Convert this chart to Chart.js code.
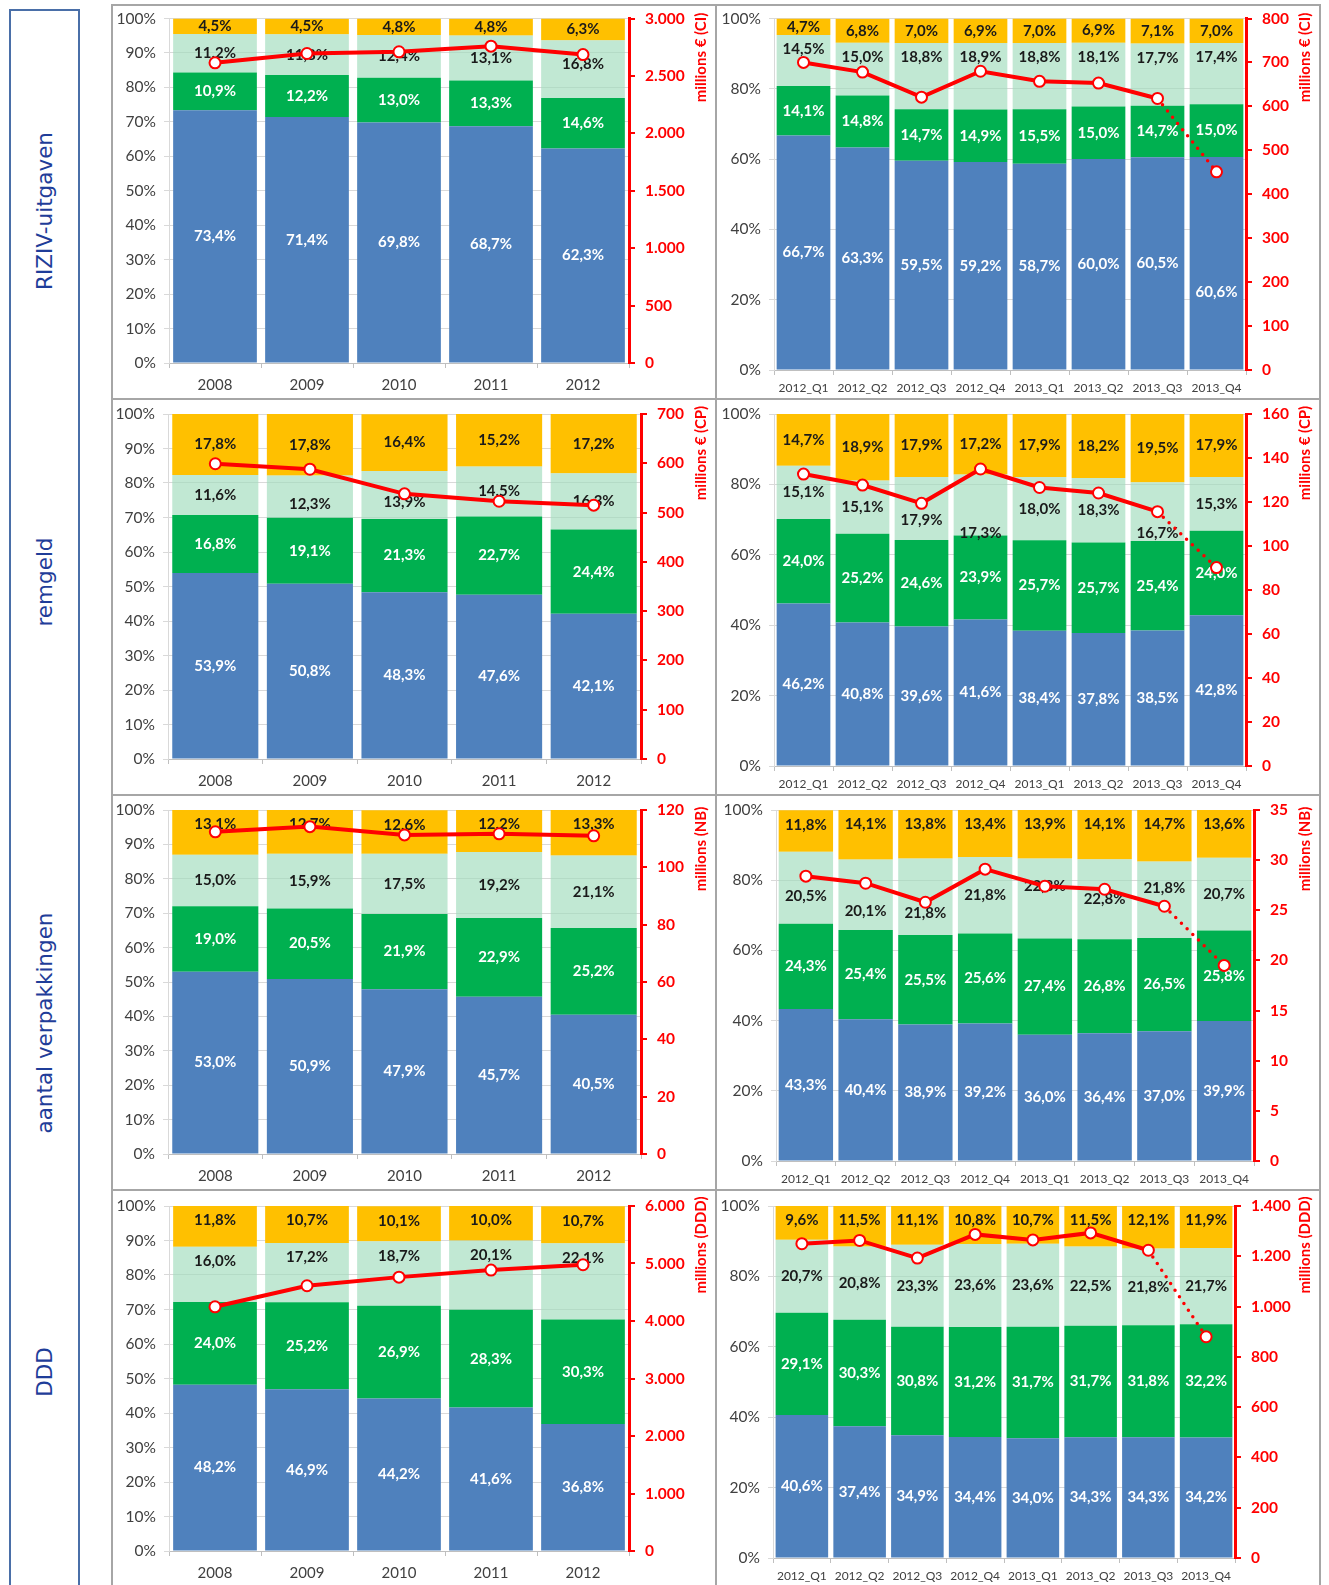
<!DOCTYPE html>
<html>
<head>
<meta charset="utf-8">
<script src="https://cdn.jsdelivr.net/npm/chart.js@4.4.1/dist/chart.umd.min.js"></script>
<style>
  body { margin: 0; background: #fff; width: 1329px; height: 1585px; overflow: hidden; position: relative; }
  canvas { position: absolute; }
  .side { position: absolute; left: 9px; top: 9px; width: 67px; height: 1600px; border: 2px solid #4a6fa8; }
  .rowname { position: absolute; left: 44px; transform: translate(-50%, -50%) rotate(-90deg);
             font: 21.5px "DejaVu Sans"; color: #1f3d99; white-space: nowrap; }
  .rule { position: absolute; background: #a6a6a6; }
</style>
</head>
<body>
<div class="side"></div>
<div class="rowname" style="top:211px">RIZIV-uitgaven</div>
<div class="rowname" style="top:582px">remgeld</div>
<div class="rowname" style="top:1023px">aantal verpakkingen</div>
<div class="rowname" style="top:1372px">DDD</div>
<div id="charts"></div>
<div class="rule" style="left:111px;top:4px;width:1210px;height:2px"></div>
<div class="rule" style="left:111px;top:398px;width:1210px;height:2px"></div>
<div class="rule" style="left:111px;top:794px;width:1210px;height:2px"></div>
<div class="rule" style="left:111px;top:1189px;width:1210px;height:2px"></div>
<div class="rule" style="left:111px;top:4px;width:2px;height:1600px"></div>
<div class="rule" style="left:715px;top:4px;width:2px;height:1600px"></div>
<div class="rule" style="left:1319px;top:4px;width:2px;height:1600px"></div>
<script>
const yearLabels = ['2008', '2009', '2010', '2011', '2012'];
const quarterLabels = ['2012_Q1', '2012_Q2', '2012_Q3', '2012_Q4', '2013_Q1', '2013_Q2', '2013_Q3', '2013_Q4'];

// RIZIV-uitgaven, shares in % and total in millions € (CI)
const rizivYearBlue = [73.4, 71.4, 69.8, 68.7, 62.3];
const rizivYearGreen = [10.9, 12.2, 13.0, 13.3, 14.6];
const rizivYearLight = [11.2, 11.8, 12.4, 13.1, 16.8];
const rizivYearOrange = [4.5, 4.5, 4.8, 4.8, 6.3];
const rizivYearTotal = [2614, 2695, 2710, 2759, 2686];

const rizivQuarterBlue = [66.7, 63.3, 59.5, 59.2, 58.7, 60.0, 60.5, 60.6];
const rizivQuarterGreen = [14.1, 14.8, 14.7, 14.9, 15.5, 15.0, 14.7, 15.0];
const rizivQuarterLight = [14.5, 15.0, 18.8, 18.9, 18.8, 18.1, 17.7, 17.4];
const rizivQuarterOrange = [4.7, 6.8, 7.0, 6.9, 7.0, 6.9, 7.1, 7.0];
const rizivQuarterTotal = [700, 678, 621, 680, 657, 653, 618, 451];

// remgeld, millions € (CP)
const remgeldYearBlue = [53.9, 50.8, 48.3, 47.6, 42.1];
const remgeldYearGreen = [16.8, 19.1, 21.3, 22.7, 24.4];
const remgeldYearLight = [11.6, 12.3, 13.9, 14.5, 16.3];
const remgeldYearOrange = [17.8, 17.8, 16.4, 15.2, 17.2];
const remgeldYearTotal = [599, 588, 538, 523, 515];

const remgeldQuarterBlue = [46.2, 40.8, 39.6, 41.6, 38.4, 37.8, 38.5, 42.8];
const remgeldQuarterGreen = [24.0, 25.2, 24.6, 23.9, 25.7, 25.7, 25.4, 24.0];
const remgeldQuarterLight = [15.1, 15.1, 17.9, 17.3, 18.0, 18.3, 16.7, 15.3];
const remgeldQuarterOrange = [14.7, 18.9, 17.9, 17.2, 17.9, 18.2, 19.5, 17.9];
const remgeldQuarterTotal = [132.7, 127.7, 119.4, 135.0, 126.6, 124.1, 115.6, 90.2];

// aantal verpakkingen, millions (NB)
const packYearBlue = [53.0, 50.9, 47.9, 45.7, 40.5];
const packYearGreen = [19.0, 20.5, 21.9, 22.9, 25.2];
const packYearLight = [15.0, 15.9, 17.5, 19.2, 21.1];
const packYearOrange = [13.1, 12.7, 12.6, 12.2, 13.3];
const packYearTotal = [112.4, 114.2, 111.3, 111.7, 111.0];

const packQuarterBlue = [43.3, 40.4, 38.9, 39.2, 36.0, 36.4, 37.0, 39.9];
const packQuarterGreen = [24.3, 25.4, 25.5, 25.6, 27.4, 26.8, 26.5, 25.8];
const packQuarterLight = [20.5, 20.1, 21.8, 21.8, 22.8, 22.8, 21.8, 20.7];
const packQuarterOrange = [11.8, 14.1, 13.8, 13.4, 13.9, 14.1, 14.7, 13.6];
const packQuarterTotal = [28.4, 27.7, 25.8, 29.1, 27.4, 27.1, 25.4, 19.5];

// DDD, millions (DDD)
const dddYearBlue = [48.2, 46.9, 44.2, 41.6, 36.8];
const dddYearGreen = [24.0, 25.2, 26.9, 28.3, 30.3];
const dddYearLight = [16.0, 17.2, 18.7, 20.1, 22.1];
const dddYearOrange = [11.8, 10.7, 10.1, 10.0, 10.7];
const dddYearTotal = [4247, 4613, 4763, 4885, 4979];

const dddQuarterBlue = [40.6, 37.4, 34.9, 34.4, 34.0, 34.3, 34.3, 34.2];
const dddQuarterGreen = [29.1, 30.3, 30.8, 31.2, 31.7, 31.7, 31.8, 32.2];
const dddQuarterLight = [20.7, 20.8, 23.3, 23.6, 23.6, 22.5, 21.8, 21.7];
const dddQuarterOrange = [9.6, 11.5, 11.1, 10.8, 10.7, 11.5, 12.1, 11.9];
const dddQuarterTotal = [1250, 1263, 1193, 1287, 1265, 1293, 1224, 880];

const RED = '#ff0000';
const fills = ['#4f81bd', '#00b050', 'rgba(160, 220, 188, 0.65)', '#ffc000'];
const labelInk = ['#ffffff', '#ffffff', '#1a1a1a', '#1a1a1a'];
Chart.defaults.font.family = 'Lato';

const cells = [
  { col: 0, row: 0, labels: yearLabels, shares: [rizivYearBlue, rizivYearGreen, rizivYearLight, rizivYearOrange], total: rizivYearTotal,
    max: 3000, step: 500, title: 'millions € (CI)', plot: { l: 169, r: 629, t: 18.5, b: 363 }, ends: [], nudge: { '2:4': -5 } },
  { col: 1, row: 0, labels: quarterLabels, shares: [rizivQuarterBlue, rizivQuarterGreen, rizivQuarterLight, rizivQuarterOrange], total: rizivQuarterTotal,
    max: 800, step: 100, title: 'millions € (CI)', plot: { l: 774, r: 1246, t: 18.5, b: 370 }, ends: [2], nudge: { '0:7': 29 } },
  { col: 0, row: 1, labels: yearLabels, shares: [remgeldYearBlue, remgeldYearGreen, remgeldYearLight, remgeldYearOrange], total: remgeldYearTotal,
    max: 700, step: 100, title: 'millions € (CP)', plot: { l: 168, r: 641, t: 414, b: 759 }, ends: [], nudge: { '2:1': 8, '2:2': 7 } },
  { col: 1, row: 1, labels: quarterLabels, shares: [remgeldQuarterBlue, remgeldQuarterGreen, remgeldQuarterLight, remgeldQuarterOrange], total: remgeldQuarterTotal,
    max: 160, step: 20, title: 'millions € (CP)', plot: { l: 774, r: 1246, t: 414, b: 766 }, ends: [], nudge: { '2:2': 12, '2:3': 28, '2:6': 21 } },
  { col: 0, row: 2, labels: yearLabels, shares: [packYearBlue, packYearGreen, packYearLight, packYearOrange], total: packYearTotal,
    max: 120, step: 20, title: 'millions (NB)', plot: { l: 168, r: 641, t: 810, b: 1154 }, ends: [3], nudge: {} },
  { col: 1, row: 2, labels: quarterLabels, shares: [packQuarterBlue, packQuarterGreen, packQuarterLight, packQuarterOrange], total: packQuarterTotal,
    max: 35, step: 5, title: 'millions (NB)', plot: { l: 776, r: 1254, t: 810, b: 1161 }, ends: [3],
    nudge: { '2:0': 8, '2:1': 16, '2:2': 16, '2:4': -12, '2:6': -12 } },
  { col: 0, row: 3, labels: yearLabels, shares: [dddYearBlue, dddYearGreen, dddYearLight, dddYearOrange], total: dddYearTotal,
    max: 6000, step: 1000, title: 'millions (DDD)', plot: { l: 169, r: 629, t: 1206, b: 1551 }, ends: [2, 3], nudge: {} },
  { col: 1, row: 3, labels: quarterLabels, shares: [dddQuarterBlue, dddQuarterGreen, dddQuarterLight, dddQuarterOrange], total: dddQuarterTotal,
    max: 1400, step: 200, title: 'millions (DDD)', plot: { l: 773, r: 1235, t: 1206, b: 1558 }, ends: [3], nudge: {} }
];

const colLeft = [113, 717];
const colRight = [715, 1319];
const rowTop = [6, 400, 796, 1191];
const rowBottom = [398, 794, 1189, 1585];
const titleX = [701, 1305];

function thousands(v) {
  return String(v).replace(/\B(?=(\d{3})+(?!\d))/g, '.');
}

// drop the label overhang padding so the plot area sits exactly where it is asked to
function noOverhang(s) {
  s.paddingTop = 0;
  s.paddingBottom = 0;
  s.paddingLeft = 0;
  s.paddingRight = 0;
}

function buildChart(cell) {
  const quarterly = cell.labels === quarterLabels;
  const left = colLeft[cell.col], top = rowTop[cell.row];
  const width = colRight[cell.col] - left, height = rowBottom[cell.row] - top;
  const p = cell.plot;

  const canvas = document.createElement('canvas');
  canvas.width = width;
  canvas.height = height;
  canvas.style.left = left + 'px';
  canvas.style.top = top + 'px';
  document.getElementById('charts').appendChild(canvas);

  // percentage labels in the middle (or near the top) of each segment, drawn under the line
  const segmentLabels = {
    id: 'segmentLabels',
    beforeDatasetDraw(chart, args) {
      if (args.meta.type !== 'line') return;
      const ctx = chart.ctx;
      ctx.save();
      ctx.font = 'bold 15px Lato';
      ctx.textAlign = 'center';
      ctx.textBaseline = 'middle';
      for (let di = 0; di < 4; di++) {
        const meta = chart.getDatasetMeta(di);
        meta.data.forEach((bar, i) => {
          const segTop = Math.min(bar.y, bar.base);
          let y = cell.ends.includes(di) ? segTop + 14.5 : (bar.y + bar.base) / 2;
          y += cell.nudge[di + ':' + i] || 0;
          ctx.fillStyle = labelInk[di];
          ctx.fillText(cell.shares[di][i].toFixed(1).replace('.', ',') + '%', bar.x, y);
        });
      }
      ctx.restore();
    }
  };

  // rotated red title beside the right-hand axis
  const axisTitle = {
    id: 'axisTitle',
    afterDraw(chart) {
      const ctx = chart.ctx;
      ctx.save();
      ctx.translate(titleX[cell.col] - left, p.t + 39 - top);
      ctx.rotate(-Math.PI / 2);
      ctx.font = 'bold 15px Lato';
      ctx.fillStyle = RED;
      ctx.textAlign = 'center';
      ctx.textBaseline = 'middle';
      ctx.fillText(cell.title, 0, 0);
      ctx.restore();
    }
  };

  const datasets = cell.shares.map((values, i) => ({
    type: 'bar',
    data: values,
    backgroundColor: fills[i],
    yAxisID: 'y',
    order: 1,
    barPercentage: 0.91,
    categoryPercentage: 1
  }));
  datasets.push({
    type: 'line',
    data: cell.total,
    yAxisID: 'y2',
    order: 0,
    borderColor: RED,
    borderWidth: 4,
    pointRadius: 5.5,
    pointBackgroundColor: '#ffffff',
    pointBorderColor: RED,
    pointBorderWidth: 2,
    tension: 0,
    segment: quarterly ? {
      borderDash: ctx => ctx.p1DataIndex === cell.total.length - 1 ? [0, 8] : undefined,
      borderWidth: ctx => ctx.p1DataIndex === cell.total.length - 1 ? 3.5 : undefined,
      borderCapStyle: ctx => ctx.p1DataIndex === cell.total.length - 1 ? 'round' : undefined
    } : undefined
  });

  new Chart(canvas, {
    data: { labels: cell.labels, datasets: datasets },
    plugins: [segmentLabels, axisTitle],
    options: {
      responsive: false,
      animation: false,
      events: [],
      layout: { padding: { top: p.t - top, left: 0, right: 0, bottom: 0 } },
      plugins: { legend: { display: false }, tooltip: { enabled: false } },
      scales: {
        x: {
          stacked: true,
          grid: { offset: true, drawOnChartArea: false, drawTicks: true, tickLength: 5, color: '#bfbfbf' },
          border: { color: '#bfbfbf' },
          ticks: { color: '#404040', font: { size: quarterly ? 12 : 15 }, padding: quarterly ? 6 : 8, maxRotation: 0, autoSkip: false },
          afterFit: s => { noOverhang(s); s.height = top + height - p.b; }
        },
        y: {
          stacked: true,
          min: 0,
          max: 100,
          ticks: { stepSize: quarterly ? 20 : 10, callback: v => v + '%', color: '#404040', font: { size: 15.5 }, padding: 8 },
          grid: { color: '#d9d9d9', tickLength: 5 },
          border: { color: '#d9d9d9' },
          afterFit: s => { noOverhang(s); s.width = p.l - left; }
        },
        y2: {
          position: 'right',
          min: 0,
          max: cell.max,
          ticks: { stepSize: cell.step, callback: v => thousands(v), color: RED, font: { size: 15.5, weight: 'bold' }, padding: 10 },
          grid: { drawOnChartArea: false, color: RED, tickLength: 6, lineWidth: 2 },
          border: { color: RED, width: 3 },
          afterFit: s => { noOverhang(s); s.width = left + width - p.r; }
        }
      }
    }
  });
}

cells.forEach(buildChart);
</script>
</body>
</html>
